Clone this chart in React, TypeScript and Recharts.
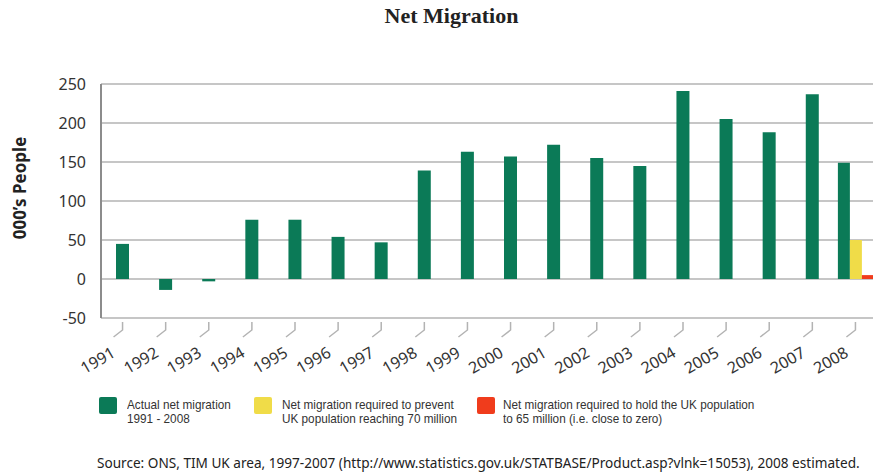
import React from "react";
import { BarChart, Bar, XAxis, YAxis, CartesianGrid } from "recharts";

const GREEN = "#0b7a57";
const YELLOW = "#f0dc48";
const RED = "#f03c1c";
const GRID = "#b3b3b3";
const AXIS = "#8c8c8c";
const INK = "#333";

const years = [
  "1991", "1992", "1993", "1994", "1995", "1996", "1997", "1998", "1999",
  "2000", "2001", "2002", "2003", "2004", "2005", "2006", "2007", "2008",
];
const actual = [45, -14, -3, 76, 76, 54, 47, 139, 163, 157, 172, 155, 145, 241, 205, 188, 237, 149];
const prevent70m = 50; // 2008 only
const hold65m = 5; // 2008 only
const yTicks = [-50, 0, 50, 100, 150, 200, 250];

const last = years.length - 1;
const data = years.map((year, i) => ({
  year,
  actual: i === last ? null : actual[i],
  actual08: i === last ? actual[i] : null,
  prevent: i === last ? prevent70m : null,
  hold: i === last ? hold65m : null,
}));

function YearTick({ x, y, payload }: any) {
  return (
    <g>
      <polyline
        points={`${x},${y + 4} ${x},${y + 12} ${x - 9},${y + 19}`}
        fill="none"
        stroke={GRID}
        strokeWidth={1.5}
      />
      <text
        x={x - 6}
        y={y + 38}
        textAnchor="end"
        transform={`rotate(-30 ${x - 6} ${y + 38})`}
        fontSize={16}
        fill={INK}
        fontFamily="'Noto Sans', sans-serif"
      >
        {payload.value}
      </text>
    </g>
  );
}

function ValueTick({ x, y, payload }: any) {
  return (
    <text x={x} y={y + 6} textAnchor="end" fontSize={16} fill={INK} fontFamily="'Noto Sans', sans-serif">
      {payload.value}
    </text>
  );
}

const legendText: React.CSSProperties = {
  fontFamily: "'Liberation Sans', Arial, sans-serif",
  fontSize: 13.5,
  lineHeight: "14px",
  color: "#333",
  position: "absolute",
  whiteSpace: "nowrap",
  transform: "scaleX(0.87)",
  transformOrigin: "left top",
};

function Swatch({ left, color }: { left: number; color: string }) {
  return <div style={{ position: "absolute", left, top: 397, width: 18, height: 17, background: color, borderRadius: 2 }} />;
}

export default function App() {
  return (
    <div style={{ position: "absolute", left: 0, top: 0, width: 873, height: 473, overflow: "hidden", background: "#fff" }}>
      <div
        style={{
          position: "absolute",
          top: 3,
          left: 0,
          width: 903,
          textAlign: "center",
          fontFamily: "'Liberation Serif', 'DejaVu Serif', serif",
          fontWeight: "bold",
          fontSize: 22,
          color: "#222",
        }}
      >
        Net Migration
      </div>
      <div
        style={{
          position: "absolute",
          left: 19,
          top: 188,
          transform: "translate(-50%, -50%) rotate(-90deg)",
          fontFamily: "'Noto Sans', sans-serif",
          fontWeight: "bold",
          fontSize: 17,
          whiteSpace: "nowrap",
          color: "#222",
        }}
      >
        000’s People
      </div>
      <div style={{ position: "absolute", left: 0, top: 0 }}>
        <BarChart width={880} height={380} data={data} margin={{ top: 84, right: 3, left: 41, bottom: 12 }}>
          <CartesianGrid vertical={false} stroke={GRID} strokeWidth={1.5} />
          <XAxis
            dataKey="year"
            height={50}
            axisLine={false}
            tickLine={false}
            tickSize={0}
            tickMargin={0}
            interval={0}
            tick={<YearTick />}
          />
          <XAxis xAxisId="b" dataKey="year" hide />
          <YAxis
            width={60}
            domain={[-50, 250]}
            ticks={yTicks}
            interval={0}
            tickLine={false}
            tickSize={0}
            tickMargin={15}
            axisLine={{ stroke: AXIS, strokeWidth: 2 }}
            tick={<ValueTick />}
          />
          <Bar dataKey="actual" fill={GREEN} barSize={13} isAnimationActive={false} />
          <Bar xAxisId="b" dataKey="actual08" fill={GREEN} barSize={12} isAnimationActive={false} />
          <Bar xAxisId="b" dataKey="prevent" fill={YELLOW} barSize={12} isAnimationActive={false} />
          <Bar xAxisId="b" dataKey="hold" fill={RED} barSize={12} isAnimationActive={false} />
        </BarChart>
      </div>
      <Swatch left={99} color={GREEN} />
      <div style={{ ...legendText, left: 127, top: 398 }}>
        Actual net migration
        <br />
        1991 - 2008
      </div>
      <Swatch left={254} color={YELLOW} />
      <div style={{ ...legendText, left: 282, top: 398 }}>
        Net migration required to prevent
        <br />
        UK population reaching 70 million
      </div>
      <Swatch left={477} color={RED} />
      <div style={{ ...legendText, left: 503, top: 398 }}>
        Net migration required to hold the UK population
        <br />
        to 65 million (i.e. close to zero)
      </div>
      <div
        style={{
          position: "absolute",
          left: 97,
          top: 453,
          fontFamily: "'Noto Sans', sans-serif",
          fontSize: 13.6,
          color: "#222",
          whiteSpace: "nowrap",
        }}
      >
        Source: ONS, TIM UK area, 1997-2007 (http://www.statistics.gov.uk/STATBASE/Product.asp?vlnk=15053), 2008 estimated.
      </div>
    </div>
  );
}
